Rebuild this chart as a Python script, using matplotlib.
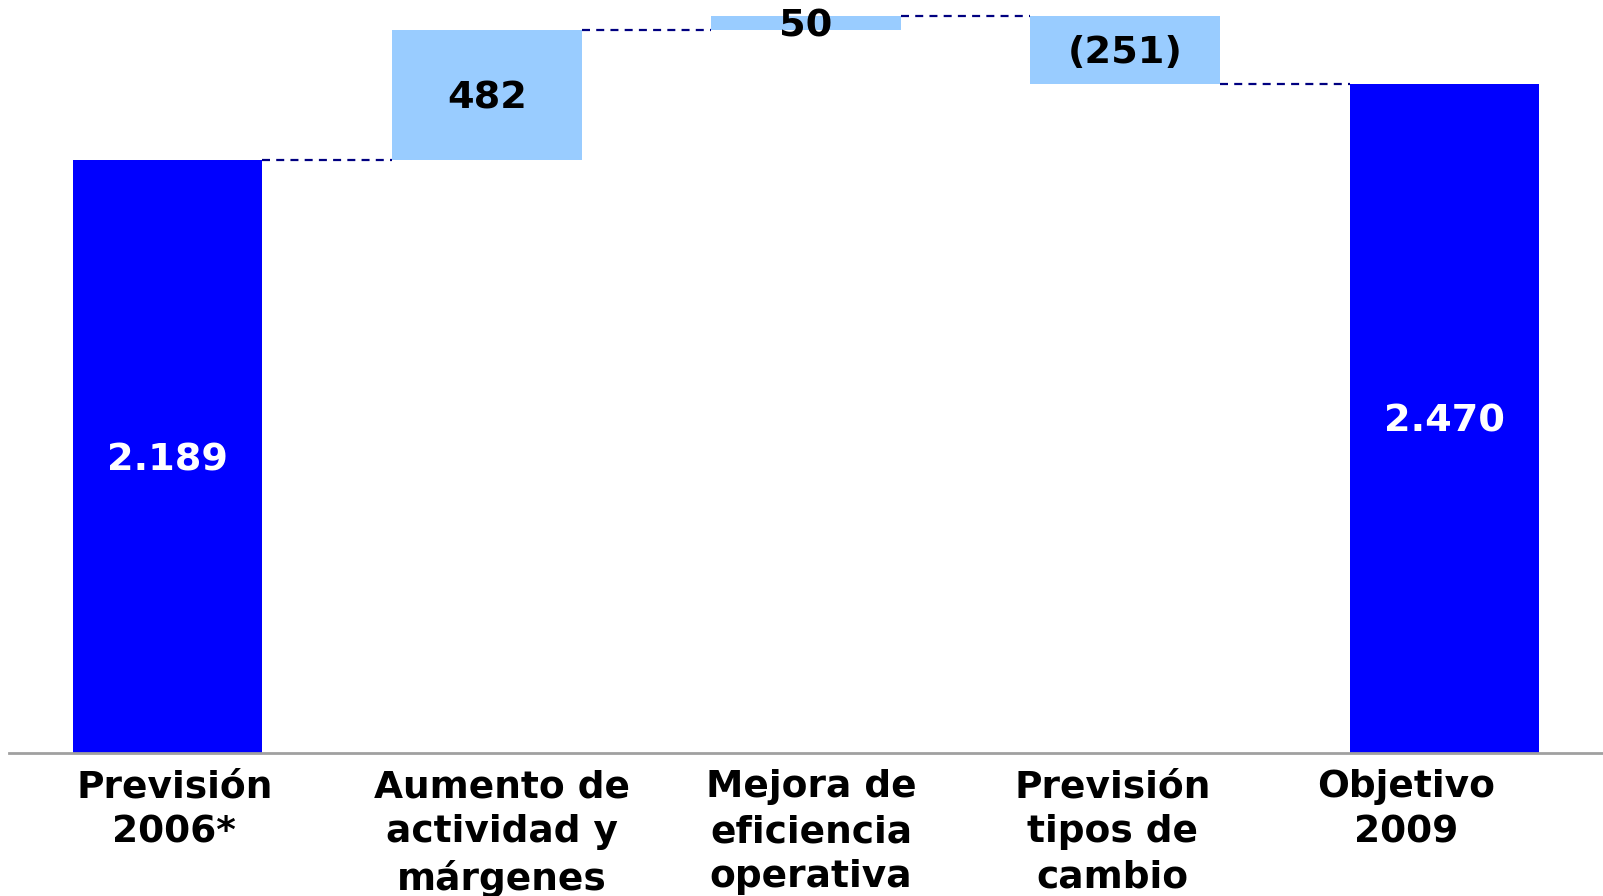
import matplotlib.pyplot as plt

categories = ["Previsión\n2006*", "Aumento de\nactividad y\nmárgenes",
              "Mejora de\neficiencia\noperativa", "Previsión\ntipos de\ncambio",
              "Objetivo\n2009"]
start_total = 2189
deltas = [482, 50, -251]
end_total = 2470
value_labels = ["2.189", "482", "50", "(251)", "2.470"]

BLUE = "#0000FF"
LIGHT = "#99CCFF"
NAVY = "#000080"

# waterfall geometry
bottoms = [0]
heights = [start_total]
level = start_total
for d in deltas:
    bottoms.append(min(level, level + d))
    heights.append(abs(d))
    level += d
bottoms.append(0)
heights.append(end_total)
colors = [BLUE] + [LIGHT] * len(deltas) + [BLUE]
text_colors = ["white"] + ["black"] * len(deltas) + ["white"]
tops = [start_total]
level = start_total
for d in deltas:
    level += d
    tops.append(level)

fig = plt.figure(figsize=(16.03, 8.96), dpi=100)
ax = fig.add_axes([0.0056, 0.1596, 0.9944, 0.8404])
x = list(range(len(categories)))
width = 0.593
ax.bar(x, heights, bottom=bottoms, width=width, color=colors, zorder=2)

# connectors
for i, lv in enumerate(tops):
    ax.plot([i + width / 2, i + 1 - width / 2], [lv, lv], color=NAVY,
            linestyle=(0, (3.6, 2.8)), linewidth=1.6, zorder=3)

for i in x:
    ax.annotate(value_labels[i], (i, bottoms[i] + heights[i] / 2),
                xytext=(0, -2.5), textcoords="offset points", ha="center",
                va="center", fontsize=27.5, fontweight="bold",
                color=text_colors[i], zorder=4)

label_shift = [0.02, 0.047, 0.016, -0.038, -0.12]
for i, lab in enumerate(categories):
    ax.text(i + label_shift[i], -60, lab, ha="center", va="top", fontsize=27,
            fontweight="bold", linespacing=1.32, clip_on=False)

ax.set_xlim(-0.498, 4.498)
ax.set_ylim(0, 2780)
ax.set_xticks([])
ax.set_yticks([])
for s in ["top", "right", "left"]:
    ax.spines[s].set_visible(False)
ax.spines["bottom"].set_color("#a0a0a0")
ax.spines["bottom"].set_linewidth(2)

fig.savefig("out.png", dpi=100)
